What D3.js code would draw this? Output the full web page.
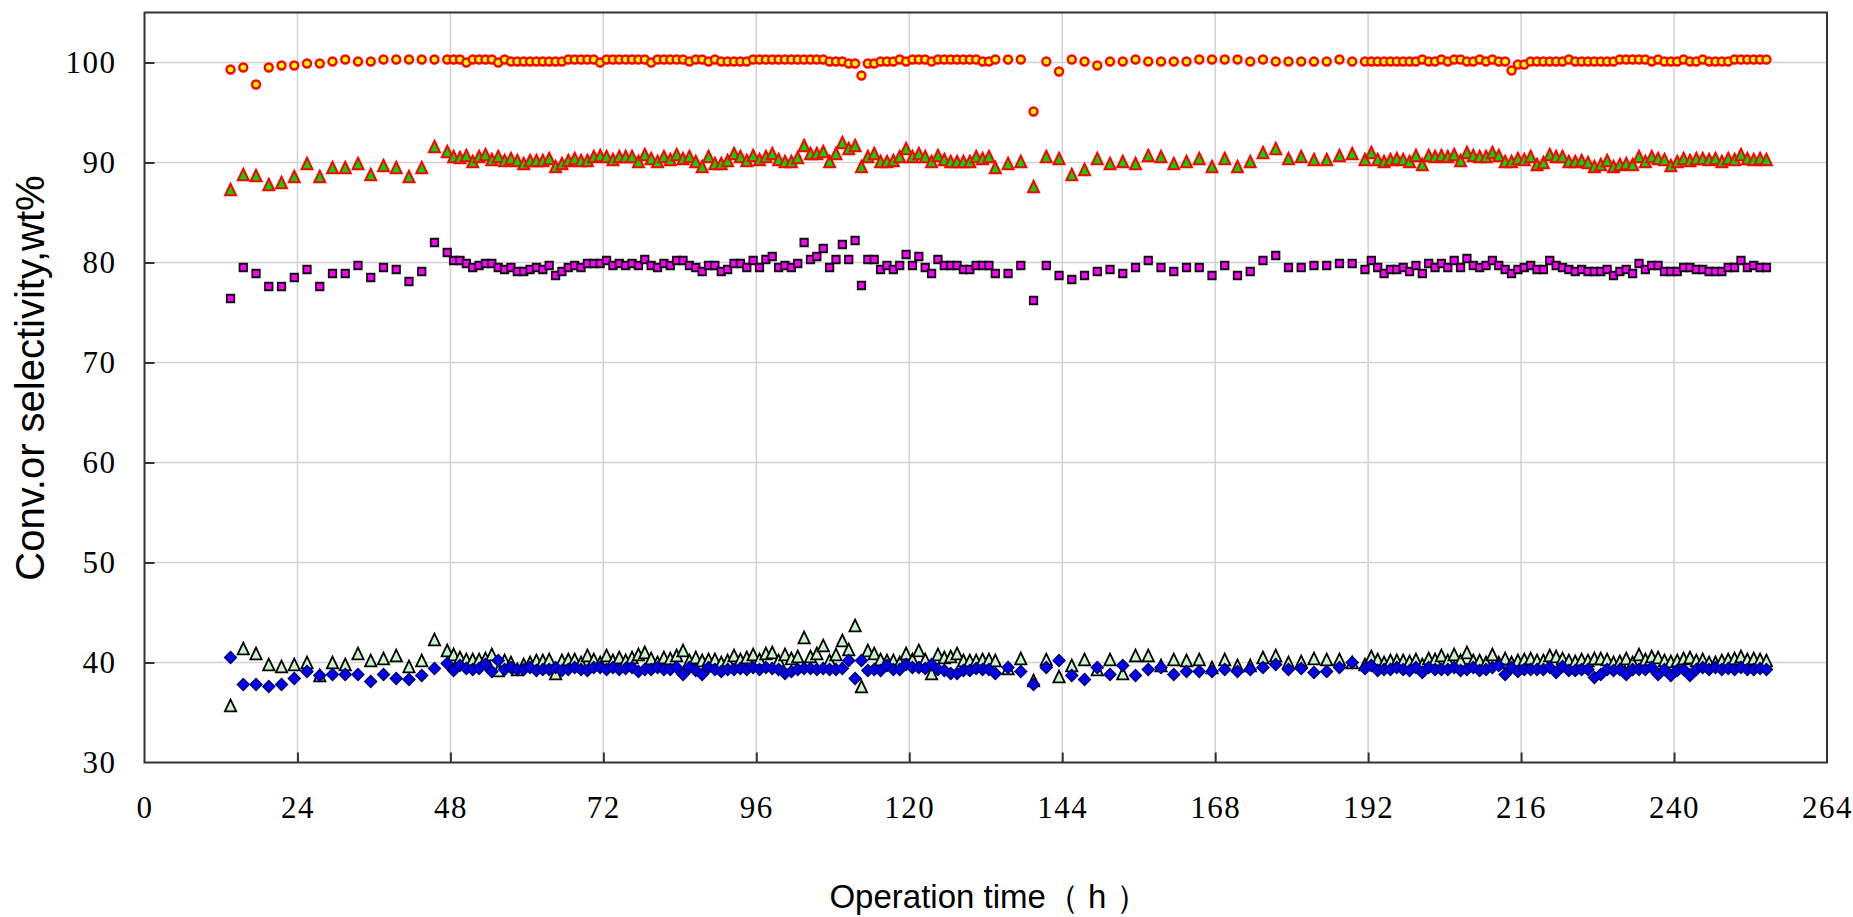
<!DOCTYPE html>
<html>
<head>
<meta charset="utf-8">
<script src="https://cdn.jsdelivr.net/npm/d3@7/dist/d3.min.js"></script>
<style>
  body { margin: 0; background: #fff; }
  svg { display: block; }
</style>
</head>
<body>
<svg id="chart" width="1853" height="917"></svg>
<script>
// sampling times, h
var hours = [
  13.5,15.5,17.5,19.5,21.5,23.5,25.5,27.5,29.5,31.5,33.5,35.5,37.5,39.5,41.5,43.5,45.5,
  47.5,48.5,49.5,50.5,51.5,52.5,53.5,54.5,55.5,56.5,57.5,58.5,59.5,60.5,61.5,62.5,63.5,64.5,65.5,66.5,
  67.5,68.5,69.5,70.5,71.5,72.5,73.5,74.5,75.5,76.5,77.5,78.5,79.5,80.5,81.5,82.5,83.5,84.5,85.5,86.5,
  87.5,88.5,89.5,90.5,91.5,92.5,93.5,94.5,
  95.5,96.5,97.5,98.5,99.5,100.5,101.5,102.5,103.5,104.5,105.5,106.5,107.5,108.5,109.5,110.5,111.5,112.5,
  113.5,114.5,115.5,116.5,117.5,118.5,119.5,120.5,121.5,122.5,123.5,124.5,125.5,126.5,127.5,128.5,129.5,
  130.5,131.5,132.5,133.5,
  135.5,137.5,139.5,141.5,143.5,145.5,147.5,149.5,151.5,153.5,155.5,157.5,159.5,161.5,163.5,165.5,167.5,
  169.5,171.5,173.5,175.5,177.5,179.5,181.5,183.5,185.5,187.5,189.5,
  191.5,192.5,193.5,194.5,195.5,196.5,197.5,198.5,199.5,200.5,201.5,202.5,203.5,204.5,205.5,206.5,207.5,
  208.5,209.5,210.5,211.5,212.5,213.5,214.5,215.5,216.5,217.5,218.5,219.5,220.5,221.5,222.5,223.5,224.5,
  225.5,226.5,227.5,228.5,229.5,230.5,231.5,232.5,233.5,234.5,235.5,236.5,237.5,238.5,239.5,240.5,241.5,
  242.5,243.5,244.5,245.5,246.5,247.5,248.5,249.5,250.5,251.5,252.5,253.5,254.5
];

// yellow circles (~100)
var seriesCircle = [
  99.3,99.5,97.8,99.5,99.7,99.7,99.9,99.9,100.1,100.3,100.1,100.1,100.3,100.3,100.3,100.3,100.3,
  100.3,100.3,100.3,100.0,100.3,100.3,100.3,100.3,100.0,100.3,100.1,100.1,100.1,100.1,100.1,100.1,100.1,100.1,100.1,
  100.3,100.3,100.3,100.3,100.3,100.0,100.3,100.3,100.3,100.3,100.3,100.3,100.3,100.0,100.3,100.3,100.3,100.3,100.3,
  100.1,100.3,100.3,100.1,100.3,100.1,100.1,100.1,100.1,100.1,
  100.3,100.3,100.3,100.3,100.3,100.3,100.3,100.3,100.3,100.3,100.3,100.3,
  100.1,100.1,100.1,99.9,99.9,98.7,99.9,99.9,100.1,100.1,100.1,100.3,100.1,100.3,100.3,100.3,100.1,
  100.3,100.3,100.3,100.3,100.3,100.3,100.3,100.1,100.1,100.3,
  100.3,100.3,95.1,100.1,99.1,100.3,100.1,99.7,100.1,100.1,100.3,100.1,100.1,100.1,100.1,100.3,100.3,
  100.3,100.3,100.1,100.3,100.1,100.1,100.1,100.1,100.1,100.3,100.1,
  100.1,100.1,100.1,100.1,100.1,100.1,100.1,100.1,100.1,100.3,100.1,100.1,100.3,100.1,100.3,100.3,100.1,
  100.1,100.3,100.1,100.3,100.1,100.1,99.2,99.8,99.8,100.1,100.1,100.1,100.1,100.1,100.1,100.3,100.1,
  100.1,100.1,100.1,100.1,100.1,100.1,100.3,100.3,100.3,100.3,100.3,100.1,100.3,100.1,100.1,100.1,100.3,
  100.1,100.1,100.3,100.1,100.1,100.1,100.1,100.3,100.3,100.3,100.3,100.3,100.3
];

// green triangles, red edge (~90)
var seriesTriRed = [
  87.3,88.8,88.7,87.8,88.0,88.6,89.9,88.6,89.5,89.5,89.9,88.8,89.7,89.5,88.6,89.5,91.6,
  91.1,90.6,90.5,90.7,90.1,90.6,90.8,90.3,90.6,90.2,90.4,90.2,89.9,90.2,90.2,90.2,90.4,89.6,89.9,90.2,
  90.4,90.2,90.2,90.6,90.7,90.6,90.3,90.6,90.6,90.6,90.1,90.8,90.4,90.1,90.6,90.3,90.8,90.4,90.6,90.1,
  89.6,90.6,89.9,89.9,90.2,90.9,90.6,90.2,
  90.7,90.3,90.6,90.9,90.3,90.1,90.1,90.5,91.7,90.9,90.9,91.1,90.1,90.9,92.0,91.4,91.7,89.6,
  90.6,90.9,90.1,90.1,90.2,90.6,91.4,90.6,90.9,90.6,90.1,90.7,90.3,90.1,90.1,90.1,90.1,
  90.6,90.4,90.6,89.5,
  89.9,90.1,87.6,90.6,90.4,88.8,89.3,90.4,89.9,90.1,89.9,90.7,90.6,89.9,90.1,90.4,89.6,
  90.4,89.6,90.1,91.0,91.4,90.4,90.6,90.3,90.3,90.7,90.9,
  90.3,91.0,90.3,90.1,90.3,90.4,90.3,90.1,90.7,89.8,90.7,90.6,90.7,90.6,90.8,90.2,91.0,
  90.7,90.6,90.6,91.0,90.7,90.1,90.1,90.4,90.3,90.6,89.8,90.0,90.8,90.6,90.6,90.1,90.1,
  90.2,90.0,89.6,89.8,90.2,89.6,89.8,89.9,89.8,90.6,90.1,90.6,90.4,90.3,89.7,90.1,90.4,
  90.2,90.4,90.4,90.3,90.4,90.1,90.4,90.3,90.8,90.4,90.3,90.4,90.3
];

// magenta squares (~80)
var seriesSquare = [
  76.4,79.5,78.9,77.6,77.6,78.5,79.3,77.6,78.9,78.9,79.7,78.5,79.5,79.3,78.1,79.1,82.0,
  81.0,80.2,80.2,79.9,79.5,79.7,79.9,79.9,79.5,79.3,79.5,79.1,79.1,79.3,79.5,79.3,79.7,78.7,79.1,79.5,
  79.7,79.5,79.9,79.9,79.9,80.2,79.7,79.9,79.7,79.9,79.7,80.3,79.7,79.5,79.9,79.7,80.2,80.2,79.7,79.5,
  79.1,79.7,79.7,79.1,79.3,79.9,79.9,79.5,
  80.2,79.5,80.3,80.6,79.5,79.7,79.5,79.9,82.0,80.3,80.6,81.4,79.5,80.3,81.8,80.3,82.2,77.7,
  80.3,80.3,79.3,79.7,79.3,79.7,80.8,79.7,80.6,79.5,78.9,80.3,79.7,79.7,79.7,79.3,79.3,
  79.7,79.7,79.7,78.9,
  78.9,79.7,76.2,79.7,78.7,78.3,78.7,79.1,79.3,78.9,79.5,80.2,79.5,79.1,79.5,79.5,78.7,
  79.7,78.7,79.1,80.2,80.7,79.5,79.5,79.7,79.7,79.9,79.9,
  79.3,80.2,79.5,78.9,79.3,79.3,79.5,79.1,79.7,78.9,79.9,79.5,79.9,79.5,80.2,79.5,80.4,
  79.7,79.5,79.7,80.2,79.7,79.3,78.9,79.3,79.5,79.7,79.3,79.3,80.2,79.7,79.5,79.3,79.1,
  79.3,79.1,79.1,79.1,79.3,78.7,79.1,79.3,78.9,79.9,79.3,79.7,79.7,79.1,79.1,79.1,79.5,
  79.5,79.3,79.3,79.1,79.1,79.1,79.5,79.5,80.2,79.5,79.7,79.5,79.5
];

// light green triangles, black edge (~40)
var seriesTriBlack = [
  35.7,41.4,40.9,39.8,39.6,39.8,40.0,38.7,40.0,39.8,40.9,40.2,40.4,40.7,39.6,40.2,42.3,
  41.2,40.8,40.5,40.3,40.3,40.3,40.4,40.8,39.2,40.2,40.0,39.3,39.8,40.0,40.2,40.2,40.3,38.9,40.2,40.3,
  40.3,40.0,40.7,40.3,40.0,40.7,40.2,40.5,40.2,40.5,40.8,41.0,40.4,40.0,40.5,40.4,40.7,41.2,40.2,40.5,
  40.2,40.3,40.3,40.0,40.2,40.7,40.3,40.5,
  40.8,40.3,40.9,41.0,40.2,40.8,40.4,40.6,42.5,40.6,40.9,41.7,40.2,40.8,42.2,41.3,43.7,37.6,
  41.2,40.9,40.3,40.2,40.2,40.0,40.9,40.3,41.2,40.3,38.9,40.8,40.5,40.6,40.9,40.2,40.2,
  40.2,40.3,40.3,40.2,
  39.4,40.4,38.2,40.3,38.6,39.7,40.3,39.3,40.3,38.9,40.7,40.7,39.7,40.3,40.2,40.3,39.5,
  40.3,39.7,39.7,40.5,40.7,40.0,40.1,40.4,40.3,40.3,40.0,
  39.8,40.6,40.3,40.0,40.2,40.2,40.2,40.1,40.3,39.8,40.4,40.3,40.7,40.2,40.8,40.2,41.0,
  40.2,40.2,40.0,40.8,40.0,40.4,40.0,40.2,40.3,40.4,40.2,40.2,40.7,40.6,40.4,40.2,40.1,
  40.3,40.2,40.4,40.4,40.3,40.0,40.1,40.4,40.0,40.8,40.3,40.6,40.5,40.2,40.1,40.2,40.4,
  40.5,40.2,40.3,40.0,40.0,40.2,40.3,40.4,40.6,40.3,40.4,40.3,40.2
];

// blue diamonds (~39)
var seriesDiamond = [
  40.5,37.8,37.8,37.6,37.8,38.4,39.1,38.7,38.8,38.8,38.8,38.1,38.8,38.4,38.3,38.7,39.4,
  39.9,39.2,39.7,39.4,39.3,39.4,39.8,39.1,40.2,39.3,39.5,39.3,39.3,39.5,39.2,39.3,39.3,39.5,39.2,39.3,
  39.5,39.3,39.2,39.5,39.5,39.3,39.5,39.3,39.4,39.5,39.1,39.3,39.3,39.5,39.3,39.3,39.5,38.8,39.5,39.2,
  38.8,39.5,39.3,39.1,39.3,39.3,39.4,39.3,
  39.5,39.3,39.5,39.4,39.3,38.9,39.1,39.3,39.4,39.4,39.3,39.4,39.3,39.3,39.4,40.2,38.4,40.2,
  39.2,39.3,39.2,39.7,39.3,39.3,39.8,39.5,39.5,39.4,39.8,39.3,39.2,38.9,38.9,39.2,39.2,
  39.4,39.3,39.3,38.9,
  39.5,39.1,37.8,39.5,40.2,38.7,38.3,39.5,38.8,39.7,38.7,39.3,39.5,38.8,39.1,39.1,39.1,
  39.3,39.1,39.3,39.5,39.8,39.3,39.4,39.0,39.1,39.5,40.0,
  39.4,39.7,39.2,39.3,39.3,39.5,39.3,39.2,39.5,39.0,39.5,39.3,39.3,39.3,39.5,39.2,39.3,
  39.5,39.2,39.3,39.5,39.7,38.8,39.5,39.1,39.3,39.3,39.3,39.3,39.5,39.0,39.6,39.2,39.2,
  39.3,39.3,38.5,38.8,39.3,39.2,39.3,38.8,39.3,39.3,39.3,39.5,38.8,39.3,38.7,39.2,39.3,
  38.7,39.3,39.5,39.3,39.5,39.3,39.4,39.3,39.5,39.3,39.3,39.4,39.3
];

var xTicks = [0, 24, 48, 72, 96, 120, 144, 168, 192, 216, 240, 264];
var yTicks = [30, 40, 50, 60, 70, 80, 90, 100];
var xTitle = "Operation time（ h ）";
var yTitle = "Conv.or selectivity,wt%";

(function() {
    var svg = d3.select("#chart");
    var margin = {left: 144.5, right: 1827, top: 12.5, bottom: 762.5};

    var x = d3.scaleLinear().domain([0, 264]).range([margin.left, margin.right]);
    var y = d3.scaleLinear().domain([30, 105]).range([margin.bottom, margin.top]);

    // grid
    svg.append("g").selectAll("line")
        .data(xTicks.slice(1, -1))
        .enter().append("line")
        .attr("x1", function(d) { return x(d); })
        .attr("x2", function(d) { return x(d); })
        .attr("y1", margin.top).attr("y2", margin.bottom)
        .attr("stroke", "#d2d2d2").attr("stroke-width", 1.5);

    svg.append("g").selectAll("line")
        .data(yTicks.slice(1))
        .enter().append("line")
        .attr("y1", function(d) { return y(d); })
        .attr("y2", function(d) { return y(d); })
        .attr("x1", margin.left).attr("x2", margin.right)
        .attr("stroke", "#d2d2d2").attr("stroke-width", 1.5);

    // axes, ticks pointing inward
    var xAxis = d3.axisBottom(x).tickValues(xTicks).tickSize(-10).tickPadding(33);
    var yAxis = d3.axisLeft(y).tickValues(yTicks).tickSize(-10).tickPadding(28);

    var gx = svg.append("g").attr("transform", "translate(0," + margin.bottom + ")").call(xAxis);
    var gy = svg.append("g").attr("transform", "translate(" + margin.left + ",0)").call(yAxis);

    [gx, gy].forEach(function(g) {
        g.select(".domain").remove();
        g.selectAll(".tick line").attr("stroke", "#333").attr("stroke-width", 2);
        g.selectAll(".tick text")
            .attr("fill", "#000")
            .style("font-family", "'Liberation Serif', 'DejaVu Serif', serif")
            .style("font-size", "31px")
            .style("letter-spacing", "1.5px");
    });
    gx.selectAll(".tick line").filter(function(d) { return d === 0 || d === 264; }).remove();
    gy.selectAll(".tick line").filter(function(d) { return d === 30; }).remove();

    // frame
    svg.append("rect")
        .attr("x", margin.left).attr("y", margin.top)
        .attr("width", margin.right - margin.left).attr("height", margin.bottom - margin.top)
        .attr("fill", "none").attr("stroke", "#333").attr("stroke-width", 2);

    // markers
    var data = hours.map(function(h, i) {
        return {h: h, a: seriesCircle[i], b: seriesTriRed[i], c: seriesSquare[i], d: seriesTriBlack[i], e: seriesDiamond[i]};
    });

    // triangle a bit taller than equilateral, centred on its mid-height
    var tallTriangle = {
        draw: function(ctx, size) {
            var w = Math.sqrt(size), h = w * 1.05;
            ctx.moveTo(0, -h / 2);
            ctx.lineTo(w / 2, h / 2);
            ctx.lineTo(-w / 2, h / 2);
            ctx.closePath();
        }
    };

    function plot(key, shape, size, fill, stroke, sw, rotate) {
        var sym = d3.symbol().type(shape).size(size);
        svg.append("g").selectAll("path")
            .data(data)
            .enter().append("path")
            .attr("d", sym)
            .attr("transform", function(d) {
                return "translate(" + x(d.h) + "," + y(d[key]) + ")" + (rotate ? " rotate(45)" : "");
            })
            .attr("fill", fill)
            .attr("stroke", stroke)
            .attr("stroke-width", sw)
            .attr("stroke-linejoin", "miter");
    }

    plot("a", d3.symbolCircle, 50, "#ffff00", "#ff0000", 2.4, false);
    plot("b", tallTriangle, 120, "#00d800", "#ff0000", 2, false);
    plot("c", d3.symbolSquare, 56, "#ff00ff", "#111", 1.8, false);
    plot("d", tallTriangle, 128, "#c8f5c8", "#000", 1.8, false);
    plot("e", d3.symbolSquare, 72, "#0000f0", "#00006e", 1.3, true);

    // titles
    svg.append("text")
        .attr("transform", "translate(44,378) rotate(-90)")
        .attr("text-anchor", "middle")
        .style("font-family", "'Liberation Sans', Arial, sans-serif")
        .style("font-size", "40px")
        .text(yTitle);

    svg.append("text")
        .attr("x", 989)
        .attr("y", 908)
        .attr("text-anchor", "middle")
        .style("font-family", "'Liberation Sans', Arial, sans-serif")
        .style("font-size", "33px")
        .text(xTitle);
})();
</script>
</body>
</html>
